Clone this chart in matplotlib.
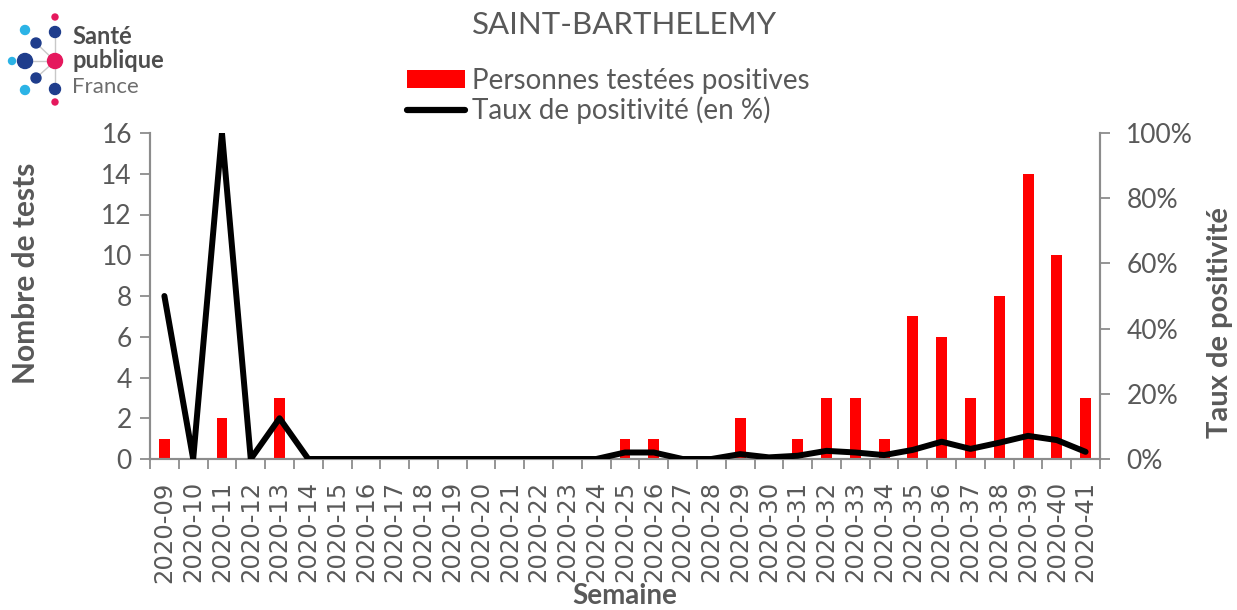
import numpy as np
import matplotlib.pyplot as plt
from matplotlib.patches import Circle, Patch
from matplotlib.lines import Line2D
from matplotlib.ticker import FixedLocator, PercentFormatter

# donnees
semaines = ["2020-09", "2020-10", "2020-11", "2020-12", "2020-13", "2020-14",
            "2020-15", "2020-16", "2020-17", "2020-18", "2020-19", "2020-20",
            "2020-21", "2020-22", "2020-23", "2020-24", "2020-25", "2020-26",
            "2020-27", "2020-28", "2020-29", "2020-30", "2020-31", "2020-32",
            "2020-33", "2020-34", "2020-35", "2020-36", "2020-37", "2020-38",
            "2020-39", "2020-40", "2020-41"]
positifs = [1, 0, 2, 0, 3, 0, 0, 0, 0, 0, 0, 0, 0, 0, 0, 0, 1, 1, 0, 0, 2, 0,
            1, 3, 3, 1, 7, 6, 3, 8, 14, 10, 3]
taux = [50, 0, 100, 0, 12.5, 0, 0, 0, 0, 0, 0, 0, 0, 0, 0, 0, 2, 2, 0, 0, 1.5,
        0.5, 1, 2.5, 2, 1.2, 2.8, 5.3, 3.1, 5, 7.1, 5.8, 2.2]

GRIS = "#595959"
AXE = "#8c8c8c"
FONT = "Lato"

W, H = 1237, 610
fig = plt.figure(figsize=(W / 100, H / 100), dpi=100)
ax = fig.add_axes([150 / W, 151 / H, 950 / W, 326 / H])
ax2 = ax.twinx()

x = np.arange(len(semaines))
ax.bar(x, positifs, width=0.38, color="#ff0000", zorder=2)
ax2.plot(x, taux, color="black", lw=4.3, solid_capstyle="round",
         solid_joinstyle="round", zorder=3)

ax.set_xlim(-0.5, len(semaines) - 0.5)
ax.set_ylim(0, 16)
ax2.set_ylim(0, 100)
ax.set_yticks(range(0, 17, 2))
ax2.set_yticks(range(0, 101, 20))
ax2.yaxis.set_major_formatter(PercentFormatter(decimals=0))

# ticks de l'axe x entre les categories, labels au centre
ax.xaxis.set_major_locator(FixedLocator(np.arange(-0.5, len(semaines), 1)))
ax.set_xticklabels([], minor=False)
ax.set_xticks(x, semaines, minor=True)
ax.tick_params(axis="x", which="major", length=7, width=1.3, color=AXE)
ax.tick_params(axis="x", which="minor", length=0, pad=16, labelrotation=90,
               labelsize=17.5, labelcolor=GRIS, labelfontfamily="DejaVu Sans")

ax.tick_params(axis="y", length=7, width=1.3, color=AXE, labelsize=19,
               labelcolor=GRIS, pad=6, labelfontfamily=FONT)
ax2.tick_params(axis="y", length=7, width=1.3, color=AXE, labelsize=19,
                labelcolor=GRIS, pad=12, labelfontfamily=FONT)

for a in (ax, ax2):
    a.spines["top"].set_visible(False)
    for s in ("left", "right", "bottom"):
        a.spines[s].set_color(AXE)
        a.spines[s].set_linewidth(1.5)

ax.set_ylabel("Nombre de tests", fontsize=21.5, fontweight="bold", color=GRIS,
              family=FONT, labelpad=44)
ax.yaxis.label.set_y(0.571)
ax2.set_ylabel("Taux de positivité", fontsize=21, fontweight="bold",
               color=GRIS, family=FONT, labelpad=10)
ax2.yaxis.label.set_y(0.42)
ax.set_xlabel("Semaine", fontsize=20, fontweight="bold", color=GRIS,
              family=FONT, labelpad=0)

fig.text(625 / W, 1 - 25 / H, "SAINT-BARTHELEMY", ha="center", va="center",
         fontsize=22.5, color=GRIS, family=FONT)

handles = [Patch(facecolor="#ff0000", edgecolor="none"),
           Line2D([], [], color="black", lw=4.5, solid_capstyle="round")]
fig.legend(handles, ["Personnes testées positives", "Taux de positivité (en %)"],
           loc="center left", bbox_to_anchor=(393 / W, 1 - 96 / H),
           frameon=False, prop={"family": FONT, "size": 20},
           labelcolor=GRIS, handlelength=2.1, handleheight=0.65,
           handletextpad=0.25, labelspacing=0.1, borderpad=0)

# logo Sante publique France
lax = fig.add_axes([0, 0, 1, 1])
lax.set_xlim(0, W)
lax.set_ylim(H, 0)
lax.axis("off")
centre = (55, 61)
noeuds = [((55, 17), 3, "#e5185d"), ((55, 32), 5.5, "#1f3d8c"),
          ((25, 30), 4.5, "#2bb3e6"), ((36, 43), 5, "#1f3d8c"),
          ((12, 61), 3.5, "#2bb3e6"), ((25, 61), 7.5, "#1f3d8c"),
          ((36, 78), 5, "#1f3d8c"), ((25, 90), 4.5, "#2bb3e6"),
          ((55, 89), 5.5, "#1f3d8c"), ((55, 102), 3, "#e5185d")]
for (px, py), r, c in noeuds:
    if (px, py) in [(55, 32), (36, 43), (25, 61), (36, 78), (55, 89)]:
        lax.plot([centre[0], px], [centre[1], py], color="#c8c8c8", lw=1,
                 zorder=1)
for (px, py), r, c in noeuds:
    lax.add_patch(Circle((px, py), r, color=c, zorder=2))
lax.add_patch(Circle(centre, 7.5, color="#e5185d", zorder=2))
lax.text(72, 37, "Santé", fontsize=17, fontweight="bold", color="#4d4d4d",
         family=FONT, va="center")
lax.text(72, 60, "publique", fontsize=17, fontweight="bold", color="#4d4d4d",
         family=FONT, va="center")
lax.text(72, 87, "France", fontsize=16, color="#6d6d6d", family=FONT,
         va="center")

fig.savefig("out.png", dpi=100)
